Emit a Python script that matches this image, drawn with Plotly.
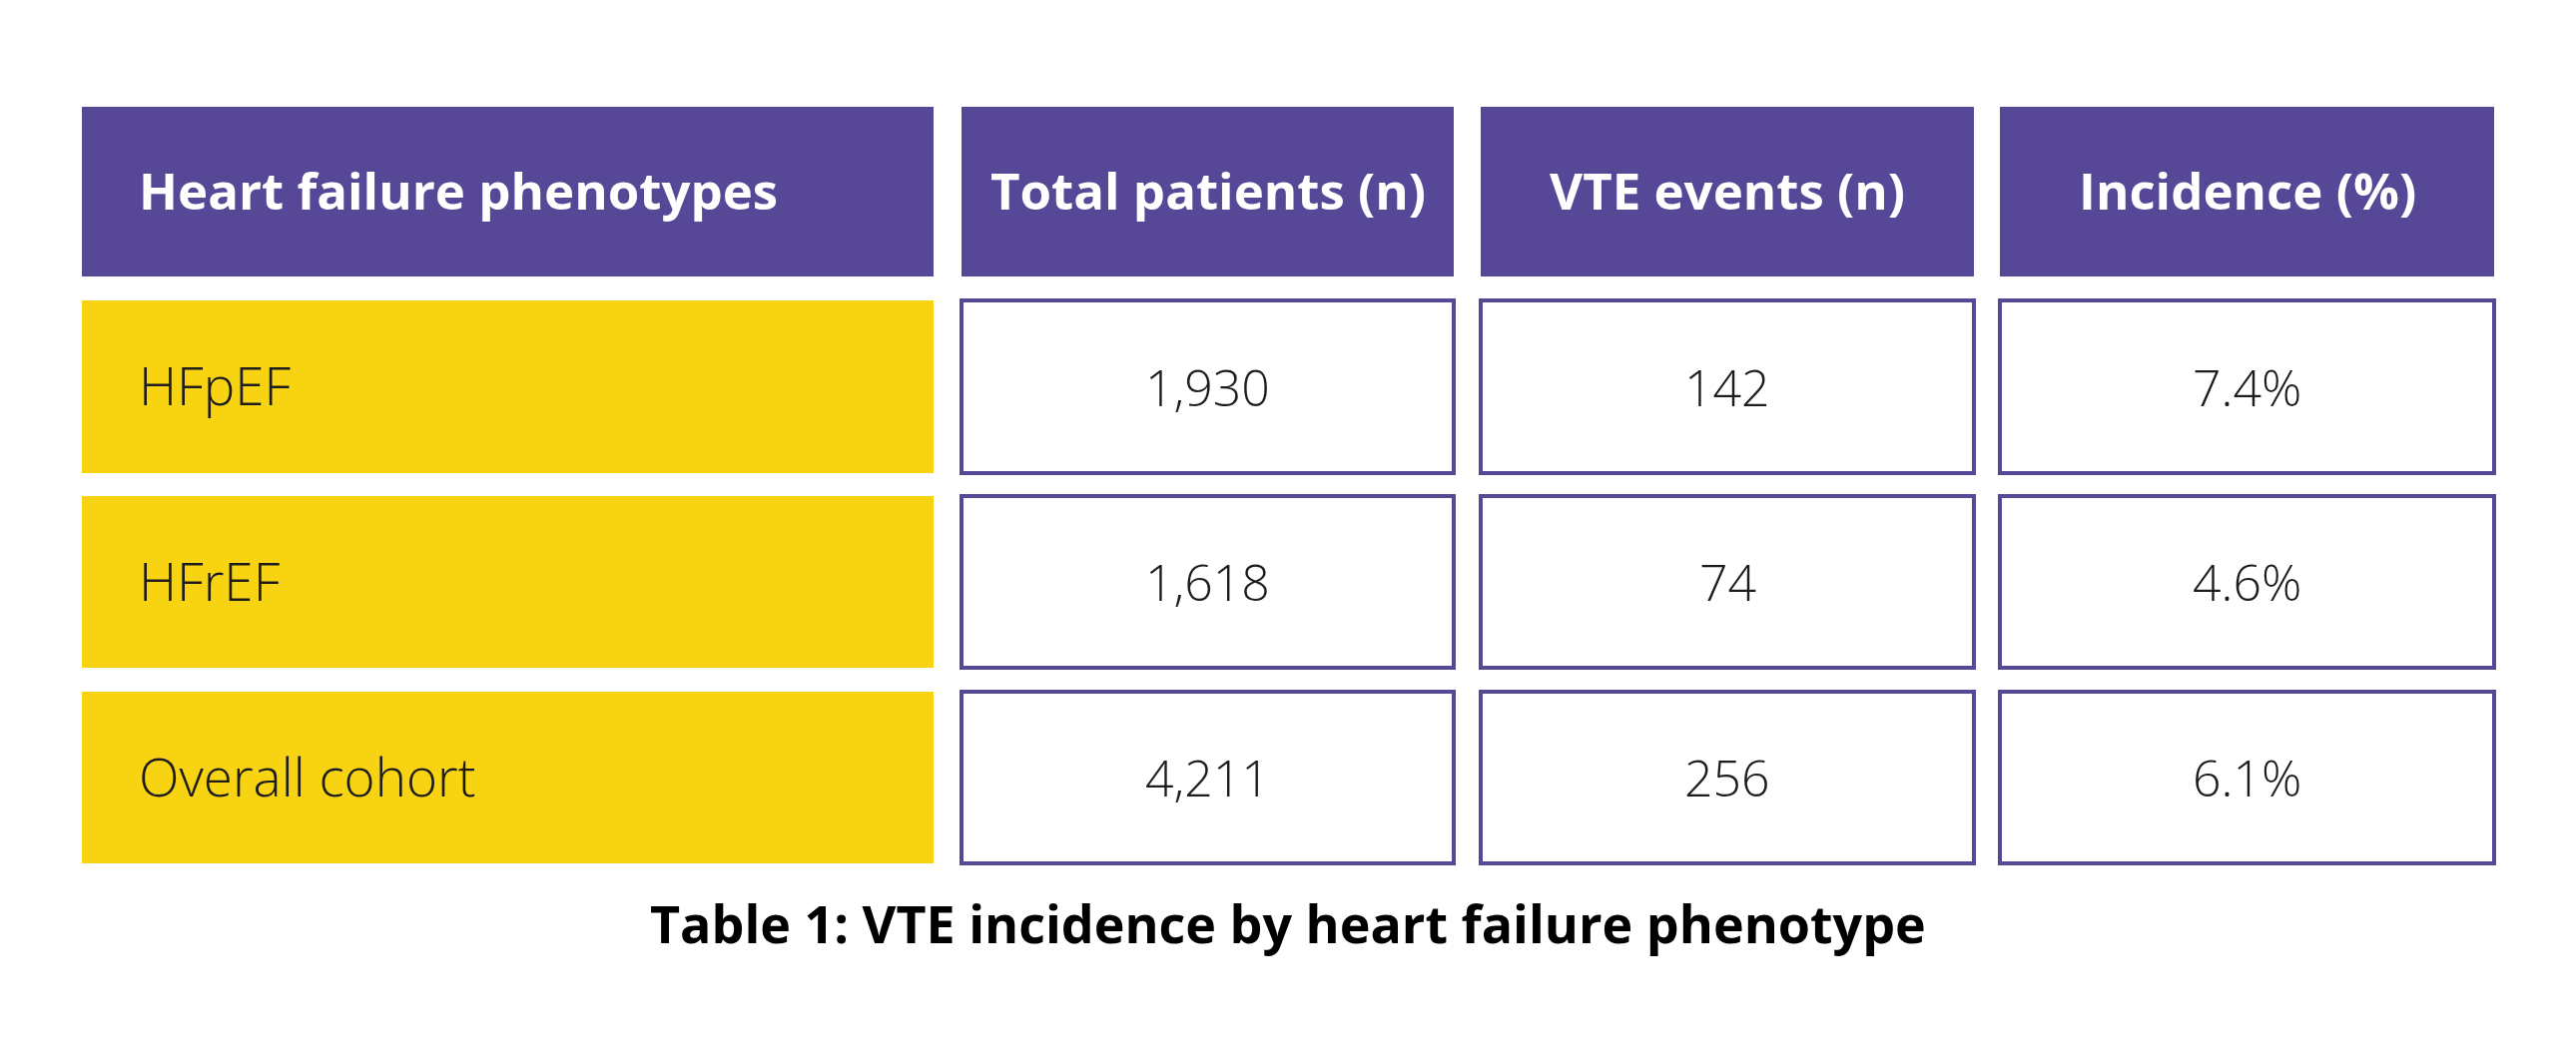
import plotly.graph_objects as go

# Table contents
headers = ["Heart failure phenotypes", "Total patients (n)", "VTE events (n)", "Incidence (%)"]
phenotypes = ["HFpEF", "HFrEF", "Overall cohort"]
total_patients = ["1,930", "1,618", "4,211"]
vte_events = ["142", "74", "256"]
incidence = ["7.4%", "4.6%", "6.1%"]
caption = "Table 1: VTE incidence by heart failure phenotype"

PURPLE = "#574797"
YELLOW = "#F8D311"
TEXT = "#1c1c1c"
FONT = "Open Sans"

W, H = 2580, 1063
OFF = 8  # page body margin

# cell geometry (pixels)
col_x = [(82, 935), (963, 1456), (1483, 1977), (2003, 2498)]
header_y = (107, 277)
row_y = [(301, 474), (497, 669), (693, 865)]

fig = go.Figure()
shapes = []
annotations = []

# header row
for (x0, x1), label in zip(col_x, headers):
    shapes.append(dict(type="rect", xref="x", yref="y", x0=x0, x1=x1,
                       y0=header_y[0], y1=header_y[1],
                       fillcolor=PURPLE, line=dict(width=0), layer="below"))
    first = x0 == col_x[0][0]
    annotations.append(dict(
        x=x0 + 55 if first else (x0 + x1) / 2,
        y=sum(header_y) / 2 - 2, xref="x", yref="y",
        text="<b>%s</b>" % label, showarrow=False,
        xanchor="left" if first else "center", yanchor="middle",
        font=dict(family=FONT, size=51, color="white")))

# body rows
columns = [total_patients, vte_events, incidence]
for i, (y0, y1) in enumerate(row_y):
    x0, x1 = col_x[0]
    shapes.append(dict(type="rect", xref="x", yref="y", x0=x0, x1=x1, y0=y0, y1=y1,
                       fillcolor=YELLOW, line=dict(width=0), layer="below"))
    annotations.append(dict(x=x0 + 55, y=(y0 + y1) / 2 - 2, xref="x", yref="y",
                            text=phenotypes[i], showarrow=False,
                            xanchor="left", yanchor="middle",
                            font=dict(family=FONT, size=53, color=TEXT, weight=300)))
    for (cx0, cx1), col in zip(col_x[1:], columns):
        shapes.append(dict(type="rect", xref="x", yref="y", x0=cx0, x1=cx1, y0=y0, y1=y1,
                           fillcolor="white", line=dict(color=PURPLE, width=4),
                           layer="below"))
        annotations.append(dict(x=(cx0 + cx1) / 2, y=(y0 + y1) / 2, xref="x", yref="y",
                                text=col[i], showarrow=False,
                                xanchor="center", yanchor="middle",
                                font=dict(family=FONT, size=50, color=TEXT, weight=300)))

# caption
annotations.append(dict(x=1290, y=924, xref="x", yref="y",
                        text="<b>%s</b>" % caption, showarrow=False,
                        xanchor="center", yanchor="middle",
                        font=dict(family=FONT, size=52, color="black")))

fig.update_layout(
    width=W, height=H,
    margin=dict(l=0, r=0, t=0, b=0),
    paper_bgcolor="white", plot_bgcolor="white",
    shapes=shapes, annotations=annotations,
    xaxis=dict(range=[OFF, W + OFF], visible=False, fixedrange=True),
    yaxis=dict(range=[H + OFF, OFF], visible=False, fixedrange=True),
    showlegend=False,
)

fig.write_html("out.html", config={"displayModeBar": False})
